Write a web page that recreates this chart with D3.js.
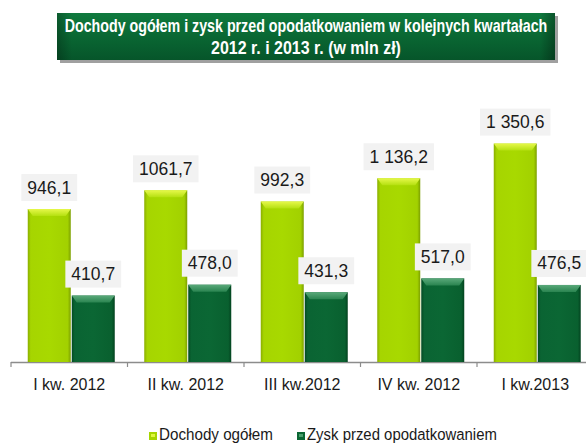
<!DOCTYPE html>
<html><head><meta charset="utf-8">
<script src="https://cdn.jsdelivr.net/npm/d3@7"></script>
<style>html,body{margin:0;padding:0;background:#fff;}svg{display:block;}</style>
</head><body>
<script>
const categories = ["I kw. 2012", "II kw. 2012", "III kw.2012", "IV kw. 2012", "I kw.2013"];
const incomeValues = [946.1, 1061.7, 992.3, 1136.2, 1350.6];
const profitValues = [410.7, 478.0, 431.3, 517.0, 476.5];
const incomeLabels = ["946,1", "1061,7", "992,3", "1 136,2", "1 350,6"];
const profitLabels = ["410,7", "478,0", "431,3", "517,0", "476,5"];
const seriesNames = ["Dochody ogółem", "Zysk przed opodatkowaniem"];
const titleLines = ["Dochody ogółem i zysk przed opodatkowaniem  w kolejnych kwartałach", "2012 r. i  2013 r. (w mln zł)"];

const W = 586, H = 443;
const svg = d3.select("body").append("svg").attr("width", W).attr("height", H);
const defs = svg.append("defs");

function hGrad(id, stops){
  const g = defs.append("linearGradient").attr("id", id).attr("x1","0").attr("x2","1").attr("y1","0").attr("y2","0");
  stops.forEach(s => g.append("stop").attr("offset", s[0]).attr("stop-color", s[1]));
}
function vGrad(id, stops){
  const g = defs.append("linearGradient").attr("id", id).attr("x1","0").attr("x2","0").attr("y1","0").attr("y2","1");
  stops.forEach(s => g.append("stop").attr("offset", s[0]).attr("stop-color", s[1]));
}
hGrad("lightBody", [["0%","#8aae00"],["7%","#a6d500"],["50%","#a8d900"],["93%","#a2d100"],["100%","#7c9f00"]]);
hGrad("darkBody", [["0%","#044a22"],["7%","#0a6433"],["50%","#0b6734"],["93%","#09602f"],["100%","#03431f"]]);
vGrad("lightTop", [["0%","#e6f84a"],["100%","#b4e010"]]);
vGrad("darkTop", [["0%","#5aa97a"],["100%","#2a8450"]]);
vGrad("titleGrad", [["0%","#0f7a3e"],["50%","#0a6733"],["100%","#06552a"]]);
hGrad("titleEdge", [["0%","rgba(0,0,0,0.25)"],["3%","rgba(0,0,0,0)"],["97%","rgba(0,0,0,0)"],["100%","rgba(0,0,0,0.3)"]]);

// Fit text horizontally to a target width by choosing font size, then stretch vertically
function fitText(sel, baseSize, targetW, cx, by, anchor){
  sel.attr("font-size", baseSize);
  const w = sel.node().getComputedTextLength();
  const r = targetW / w;
  sel.attr("font-size", baseSize * r)
     .attr("x", 0).attr("y", 0)
     .attr("transform", `translate(${cx},${by}) scale(1,${1 / r})`)
     .attr("text-anchor", anchor);
}

// Title box
svg.append("rect").attr("x", 60).attr("y", 16).attr("width", 498).attr("height", 47).attr("fill", "#a0a0a0");
svg.append("rect").attr("x", 57).attr("y", 13).attr("width", 498).attr("height", 47).attr("fill", "url(#titleGrad)");
svg.append("rect").attr("x", 57).attr("y", 13).attr("width", 498).attr("height", 47).attr("fill", "url(#titleEdge)");
const tl = [{t: titleLines[0], y: 31.5, len: 483}, {t: titleLines[1], y: 54, len: 190}];
tl.forEach(d => {
  const t = svg.append("text")
    .attr("font-family", "Liberation Sans, Arial, sans-serif").attr("font-weight", "bold")
    .attr("fill", "#fff").text(d.t);
  fitText(t, 18, d.len, 306, d.y, "middle");
});

// Scales
const baseY = 362;
const x0 = d3.scaleBand().domain(categories).range([11, 593.5]);
const groupOffset = 2;
const barW = 43;
const y = d3.scaleLinear().domain([0, 1400]).range([baseY, baseY - 1400 * 0.1617]);

// Axis
const axisG = svg.append("g").attr("transform", `translate(0,${baseY})`);
axisG.append("line").attr("x1", 11).attr("x2", W).attr("y1", 0.5).attr("y2", 0.5)
  .attr("stroke", "#8c8c8c").attr("stroke-width", 1.5);
const boundaries = categories.map(c => x0(c));
axisG.selectAll("line.tick").data(boundaries).enter().append("line").attr("class", "tick")
  .attr("x1", d => d).attr("x2", d => d).attr("y1", 0).attr("y2", 5)
  .attr("stroke", "#8c8c8c").attr("stroke-width", 1.2);
axisG.selectAll("text.cat").data(categories).enter().append("text").attr("class", "cat")
  .attr("x", d => x0(d) + x0.bandwidth() / 2).attr("y", 27.5).attr("text-anchor", "middle")
  .attr("font-family", "Liberation Sans, Arial, sans-serif").attr("font-size", 16).attr("fill", "#1a1a1a")
  .text(d => d);

// Bars
function drawBar(g, x, val, kind){
  const top = y(val), h = baseY - top;
  g.append("rect").attr("x", x).attr("y", top).attr("width", barW).attr("height", h)
    .attr("fill", kind === "light" ? "url(#lightBody)" : "url(#darkBody)");
  const b = 7;
  g.append("polygon")
    .attr("points", [[x, top], [x + barW, top], [x + barW - 5, top + b], [x + 5, top + b]].map(p => p.join(",")).join(" "))
    .attr("fill", kind === "light" ? "url(#lightTop)" : "url(#darkTop)");
}
const barsG = svg.append("g");
categories.forEach((c, i) => {
  const cx = x0(c) + x0.bandwidth() / 2 + groupOffset;
  drawBar(barsG, cx - barW - 0.5, incomeValues[i], "light");
  drawBar(barsG, cx + 0.5, profitValues[i], "dark");
});

// Value labels
const labG = svg.append("g");
function drawLabel(cx, val, txt){
  const top = y(val);
  const bh = 27, bottom = top - 8;
  const t = labG.append("text").attr("x", cx).attr("y", bottom - 7.5).attr("text-anchor", "middle")
    .attr("font-family", "Liberation Sans, Arial, sans-serif").attr("font-size", 17.5).attr("fill", "#1a1a1a")
    .text(txt);
  const tw = t.node().getComputedTextLength();
  labG.insert("rect", "text").attr("x", cx - tw / 2 - 6).attr("y", bottom - bh).attr("width", tw + 12).attr("height", bh)
    .attr("fill", "#f2f2f2");
}
categories.forEach((c, i) => {
  const cx = x0(c) + x0.bandwidth() / 2 + groupOffset;
  drawLabel(cx - barW / 2 - 0.5, incomeValues[i], incomeLabels[i]);
  drawLabel(cx + barW / 2 + 0.5, profitValues[i], profitLabels[i]);
});

// Legend
const leg = svg.append("g");
const legItems = [
  {name: seriesNames[0], sx: 149, tx: 159, len: 114, body: "#a6d500", top: "#dff540"},
  {name: seriesNames[1], sx: 297, tx: 307, len: 190, body: "#0b6734", top: "#4a9f6c"}
];
legItems.forEach(d => {
  leg.append("rect").attr("x", d.sx).attr("y", 432).attr("width", 8).attr("height", 8).attr("fill", d.body);
  leg.append("rect").attr("x", d.sx + 2).attr("y", 434).attr("width", 4).attr("height", 3).attr("fill", d.top);
  const t = leg.append("text").attr("font-family", "Liberation Sans, Arial, sans-serif")
    .attr("fill", "#1a1a1a").text(d.name);
  fitText(t, 17, d.len, d.tx, 440, "start");
});
</script>
</body></html>
